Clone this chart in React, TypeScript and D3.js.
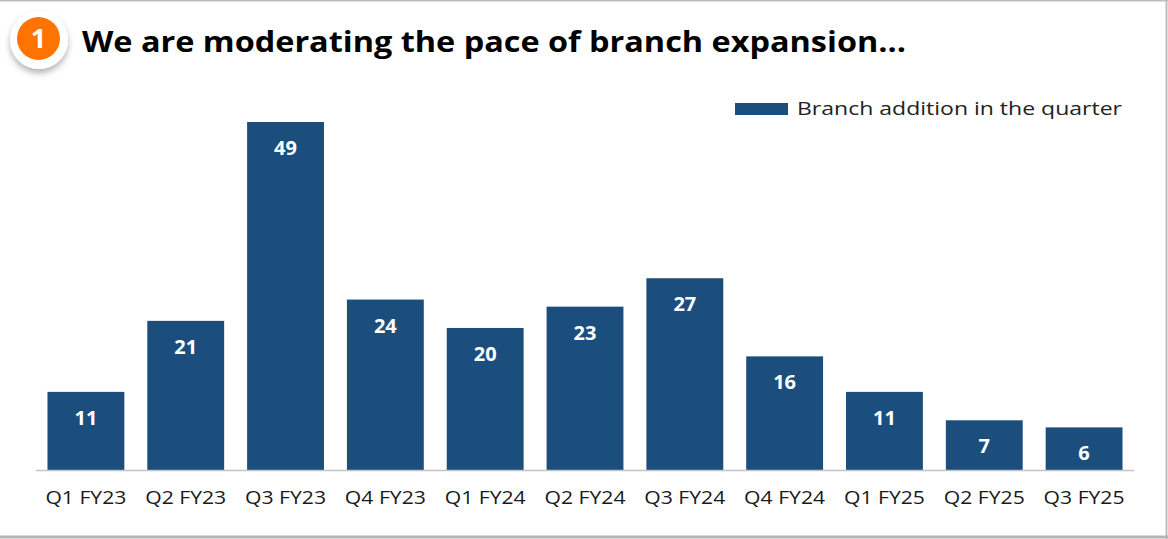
import React from "react";
import * as d3 from "d3";

const categories = ["Q1 FY23", "Q2 FY23", "Q3 FY23", "Q4 FY23", "Q1 FY24", "Q2 FY24", "Q3 FY24", "Q4 FY24", "Q1 FY25", "Q2 FY25", "Q3 FY25"];
const branchAdditions = [11, 21, 49, 24, 20, 23, 27, 16, 11, 7, 6];
const title = "We are moderating the pace of branch expansion...";
const legendLabel = "Branch addition in the quarter";
const badge = "1";

const W = 1168;
const H = 539;
const BAR = "#1b4e7d";
const FONT = "'Open Sans', 'DejaVu Sans', sans-serif";

export default function App() {
  const x = d3.scaleBand<string>().domain(categories).range([36, 1134]).paddingInner(0.23).paddingOuter(0.115);
  const y = d3.scaleLinear().domain([0, 49]).range([470, 122]);
  return (
    <svg width={W} height={H} style={{ position: "fixed", left: 0, top: 0, background: "#fff" }} fontFamily={FONT}>
      <defs>
        <filter id="sh" x="-50%" y="-50%" width="200%" height="200%">
          <feDropShadow dx="0" dy="4" stdDeviation="3" floodColor="#000" floodOpacity="0.3" />
        </filter>
      </defs>
      {/* frame */}
      <line x1={0} x2={W} y1={0.75} y2={0.75} stroke="#bdbdbd" strokeWidth={1.5} />
      <line x1={1166.5} x2={1166.5} y1={0} y2={H} stroke="#bdbdbd" strokeWidth={2} />
      <line x1={0} x2={W} y1={537} y2={537} stroke="#b3b3b3" strokeWidth={3} />

      {/* badge */}
      <circle cx={39} cy={40} r={29} fill="#fff" filter="url(#sh)" />
      <circle cx={38.5} cy={38.5} r={21.5} fill="#ff7300" />
      <text x={38.5} y={48} textAnchor="middle" fontSize={27} fontWeight={700} fill="#fff">{badge}</text>

      {/* title */}
      <text x={82} y={52} fontSize={28} fontWeight={700} fill="#000" textLength={824} lengthAdjust="spacingAndGlyphs">{title}</text>

      {/* legend */}
      <rect x={735} y={103} width={53} height={12} fill={BAR} />
      <text x={797} y={115} fontSize={19} fill="#222" textLength={325} lengthAdjust="spacingAndGlyphs">{legendLabel}</text>

      {/* bars */}
      {categories.map((c, i) => (
        <g key={c}>
          <rect x={x(c)} y={y(branchAdditions[i])} width={x.bandwidth()} height={y(0) - y(branchAdditions[i])} fill={BAR} />
          <text x={(x(c) as number) + x.bandwidth() / 2} y={y(branchAdditions[i]) + 33} textAnchor="middle" fontSize={20} fontWeight={700} fill="#fff">{branchAdditions[i]}</text>
          <text x={(x(c) as number) + x.bandwidth() / 2} y={504} textAnchor="middle" fontSize={18.5} fill="#1a1a1a" textLength={81} lengthAdjust="spacingAndGlyphs">{c}</text>
        </g>
      ))}

      {/* axis */}
      <line x1={x.range()[0]} x2={x.range()[1]} y1={470.5} y2={470.5} stroke="#c4c4c4" strokeWidth={1.5} />
    </svg>
  );
}
